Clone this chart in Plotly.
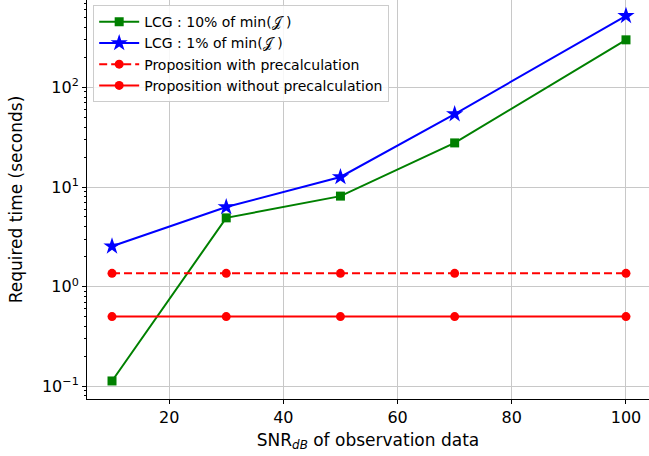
import plotly.graph_objects as go

snr = [10, 30, 50, 70, 100]
lcg_10 = [0.113, 4.9, 8.1, 27.7, 300]
lcg_1 = [2.54, 6.3, 12.6, 54, 522]
prop_pre = [1.36, 1.36, 1.36, 1.36, 1.36]
prop_nopre = [0.5, 0.5, 0.5, 0.5, 0.5]

names = ["LCG : 10% of min(𝒥 )", "LCG : 1% of min(𝒥 )",
         "Proposition with precalculation", "Proposition without precalculation"]

fig = go.Figure()
fig.add_trace(go.Scatter(x=snr, y=lcg_10, name=names[0], mode="lines+markers",
                         line=dict(color="#008000", width=2),
                         marker=dict(symbol="square", size=9, color="#008000")))
fig.add_trace(go.Scatter(x=snr, y=lcg_1, name=names[1], mode="lines+markers",
                         line=dict(color="#0000ff", width=2),
                         marker=dict(symbol="star", size=13, color="#0000ff")))
fig.add_trace(go.Scatter(x=snr, y=prop_pre, name=names[2], mode="lines+markers",
                         line=dict(color="#ff0000", width=2, dash="8px,4px"),
                         marker=dict(symbol="circle", size=9, color="#ff0000")))
fig.add_trace(go.Scatter(x=snr, y=prop_nopre, name=names[3], mode="lines+markers",
                         line=dict(color="#ff0000", width=2),
                         marker=dict(symbol="circle", size=9, color="#ff0000")))

fig.update_layout(
    width=649, height=456,
    margin=dict(l=87, r=0, t=0, b=57, autoexpand=False),
    paper_bgcolor="white", plot_bgcolor="white",
    font=dict(family="DejaVu Sans", color="black"),
    legend=dict(x=0.011, y=0.987, xanchor="left", yanchor="top",
                bgcolor="rgba(255,255,255,0.85)", bordercolor="#cccccc", borderwidth=1,
                font=dict(size=14), tracegroupgap=0, itemwidth=40),
    xaxis=dict(range=[5.62, 104.03], tickvals=[20, 40, 60, 80, 100], automargin=False,
               showgrid=True, gridcolor="#c8c8c8", gridwidth=1,
               showline=True, linecolor="black", linewidth=1, mirror=False,
               ticks="outside", ticklen=4, tickcolor="black",
               tickfont=dict(size=16), zeroline=False,
               title=dict(text="SNR<sub><i>dB</i></sub> of observation data",
                          font=dict(size=17), standoff=7)),
    yaxis=dict(type="log", range=[-1.128, 2.877], automargin=False,
               tickvals=[0.1, 1, 10, 100],
               ticktext=["10<sup>−1</sup>", "10<sup>0</sup>", "10<sup>1</sup>", "10<sup>2</sup>"],
               showgrid=True, gridcolor="#c8c8c8", gridwidth=1,
               showline=True, linecolor="black", linewidth=1,
               ticks="outside", ticklen=4, tickcolor="black",
               tickfont=dict(size=16), zeroline=False,
               minor=dict(ticks="outside", ticklen=2, tickcolor="black", showgrid=False,
                          tickvals=[v * m for m in [0.01, 0.1, 1, 10, 100] for v in range(2, 10)]),
               title=dict(text="Required time (seconds)", font=dict(size=17), standoff=14)),
)

fig.write_html("out.html", config={"displayModeBar": False},
               post_script="document.body.style.margin='0';document.body.style.overflow='hidden';")
